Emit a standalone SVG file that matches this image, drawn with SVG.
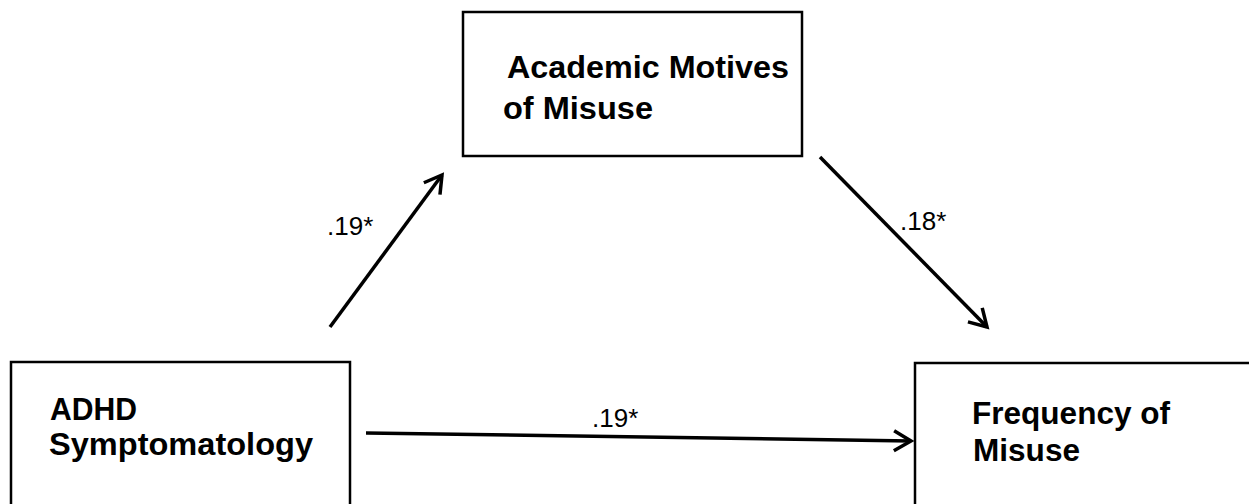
<svg xmlns="http://www.w3.org/2000/svg" width="1249" height="504" viewBox="0 0 1249 504">
<style>
.box{fill:#fff;stroke:#000;stroke-width:2.5}
.t{font-family:"Liberation Sans",Arial,sans-serif;font-weight:bold;font-size:32px;fill:#000}
.lbl{font-family:"Liberation Sans",Arial,sans-serif;font-size:26px;fill:#000}
.edge{stroke:#000;stroke-width:3.5;fill:none;marker-end:url(#arr)}
</style>
<defs>
<marker id="arr" markerUnits="userSpaceOnUse" markerWidth="30" markerHeight="30" refX="0" refY="0" viewBox="-20 -15 30 30" orient="auto" overflow="visible">
<path d="M -17 -10 L 0 0 L -17 10" fill="none" stroke="#000" stroke-width="3.5" stroke-linejoin="miter"/>
</marker>
</defs>
<rect width="1249" height="504" fill="#fff"/>
<g id="academic-motives">
<rect class="box" x="463" y="12" width="339" height="144"/>
<text class="t" x="507" y="78" textLength="282" lengthAdjust="spacingAndGlyphs">Academic Motives</text>
<text class="t" x="503" y="119" textLength="150" lengthAdjust="spacingAndGlyphs">of Misuse</text>
</g>
<g id="adhd">
<rect class="box" x="11" y="362" width="339" height="160"/>
<text class="t" x="50" y="420" textLength="87" lengthAdjust="spacingAndGlyphs">ADHD</text>
<text class="t" x="49" y="455" textLength="264" lengthAdjust="spacingAndGlyphs">Symptomatology</text>
</g>
<g id="frequency">
<rect class="box" x="915" y="363" width="360" height="160"/>
<text class="t" x="972" y="424" textLength="198" lengthAdjust="spacingAndGlyphs">Frequency of</text>
<text class="t" x="973" y="461" textLength="107" lengthAdjust="spacingAndGlyphs">Misuse</text>
</g>
<g id="connectors">
<line class="edge" x1="330" y1="327" x2="442" y2="175"/>
<line class="edge" x1="820" y1="157" x2="987" y2="327"/>
<line class="edge" x1="366" y1="433" x2="911" y2="441"/>
<text class="lbl" x="327" y="235">.19*</text>
<text class="lbl" x="900" y="230">.18*</text>
<text class="lbl" x="592" y="427">.19*</text>
</g>
</svg>
